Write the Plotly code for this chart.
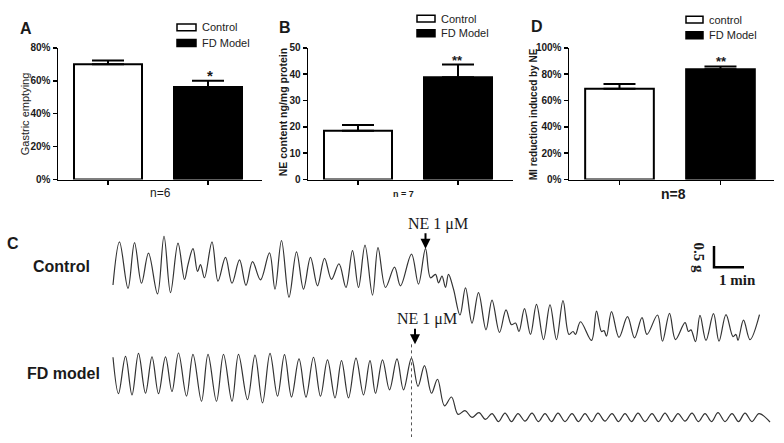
import plotly.graph_objects as go

# ---------------- data ----------------
groups = ["Control", "FD Model"]

gastric_mean = [70.0, 56.2]      # %
gastric_sem = [2.3, 3.8]

ne_content_mean = [18.5, 38.9]   # ng/mg protein
ne_content_sem = [2.2, 4.8]

mi_reduction_mean = [69.0, 83.7]  # %
mi_reduction_sem = [3.6, 2.2]

pct80_ticks = [0, 20, 40, 60, 80]
pct80_labels = ["0%", "20%", "40%", "60%", "80%"]
ne_ticks = [0, 10, 20, 30, 40, 50]
pct100_ticks = [0, 20, 40, 60, 80, 100]
pct100_labels = ["0%", "20%", "40%", "60%", "80%", "100%"]

# contraction recordings: time (s) and tension (g), extrema
control_t = [0, 13, 30, 43, 57, 71, 89, 102, 115, 130,
             143, 150, 160, 169, 175, 183, 198, 210, 225, 238,
             253, 266, 279, 295, 313, 324, 337, 352, 367, 381,
             395, 409, 423, 437, 452, 466, 479, 491, 504, 519,
             530, 545, 563, 575, 597, 611, 625, 635, 645, 651,
             658, 665, 671, 681, 694, 705, 718, 731, 746, 758,
             773, 786, 797, 805, 812, 823, 835, 847, 861, 874,
             887, 900, 912, 920, 925, 935, 957, 967, 977, 982,
             987, 997, 1012, 1029, 1043, 1058, 1068, 1089, 1099, 1113,
             1125, 1144, 1151, 1156, 1165, 1174, 1186, 1201, 1212, 1226,
             1240, 1246, 1250, 1261, 1274, 1293]
control_g = [1.45, 2.47, 1.37, 2.45, 1.49, 2.20, 1.24, 2.60, 1.27, 2.44,
             1.58, 1.93, 2.31, 1.77, 1.93, 1.62, 2.47, 1.54, 2.10, 1.49,
             2.04, 1.44, 2.00, 1.57, 2.21, 1.35, 2.50, 1.16, 2.23, 1.35,
             2.10, 1.43, 2.08, 1.58, 1.95, 1.39, 2.26, 1.39, 2.39, 1.21,
             2.33, 1.39, 1.87, 1.43, 2.18, 1.47, 2.31, 1.62, 1.70, 1.50,
             1.66, 1.39, 1.70, 1.35, 0.74, 1.38, 0.55, 1.27, 0.39, 1.09,
             0.33, 0.86, 0.51, 0.55, 0.35, 0.89, 0.28, 0.99, 0.16, 0.98,
             0.16, 1.08, 0.28, 0.35, 0.28, 0.58, 0.14, 0.83, 0.35, 0.37,
             0.24, 0.82, 0.21, 0.70, 0.20, 0.68, 0.28, 0.74, 0.12, 0.78,
             0.16, 0.56, 0.35, 0.39, 0.11, 0.73, 0.14, 0.77, 0.12, 0.75,
             0.23, 0.28, 0.14, 0.62, 0.16, 0.75]

fd_t = [0, 11, 25, 38, 51, 65, 78, 91, 105, 118,
        131, 147, 160, 177, 190, 207, 221, 238, 251, 269,
        284, 299, 314, 329, 343, 357, 372, 386, 401, 415,
        429, 444, 457, 471, 486, 501, 514, 525, 539, 553,
        568, 581, 597, 610, 623, 637, 649, 663, 677, 690,
        704, 718, 732, 745,
        758, 771, 784, 797, 810, 824, 838, 851, 864, 877,
        890, 904, 918, 931, 944, 957, 970, 984, 998, 1011,
        1024, 1037, 1050, 1064, 1078, 1091, 1104, 1117, 1130, 1144,
        1158, 1171, 1184, 1197, 1210, 1224, 1238, 1251, 1264, 1278,
        1292, 1314]
fd_g = [1.70, 0.84, 1.72, 0.81, 1.79, 0.85, 1.71, 0.84, 1.71, 0.89,
        1.80, 0.78, 1.77, 0.66, 1.77, 0.66, 1.77, 0.66, 1.77, 0.70,
        1.75, 0.62, 1.79, 0.78, 1.76, 0.76, 1.66, 0.76, 1.70, 0.78,
        1.64, 0.74, 1.62, 0.74, 1.68, 0.81, 1.62, 0.85, 1.64, 0.93,
        1.66, 0.93, 1.68, 1.01, 1.50, 0.85, 1.18, 0.55, 0.76, 0.35,
        0.44, 0.28, 0.39, 0.23,
        0.37, 0.18, 0.38, 0.18, 0.37, 0.19, 0.38, 0.18, 0.37, 0.18,
        0.38, 0.18, 0.37, 0.18, 0.37, 0.18, 0.38, 0.19, 0.37, 0.18,
        0.37, 0.18, 0.38, 0.18, 0.37, 0.18, 0.38, 0.18, 0.37, 0.19,
        0.38, 0.18, 0.37, 0.18, 0.39, 0.18, 0.37, 0.18, 0.38, 0.18,
        0.37, 0.17]

ne_time_control = 625   # s, NE 1 µM added (control)
ne_time_fd = 597        # s, NE 1 µM added (FD model)
scale_bar_g = 0.5
scale_bar_min = 1

# ---------------- layout helpers ----------------
W, H = 784, 443
def fx(px): return px / W
def fy(py): return 1 - py / H

ARIAL = "Arial, 'Liberation Sans', sans-serif"
TIMES = "'Times New Roman', 'Liberation Serif', serif"
INK = "#1a1a1a"
PX_PER_G = 43.4
PX_PER_S = 0.5
T0_PX = 113

fig = go.Figure()

bar_colors = ["white", "black"]
def add_bars(mean, sem, xa, ya):
    fig.add_trace(go.Bar(
        x=[0, 1], y=mean, width=0.68, xaxis=xa, yaxis=ya,
        marker=dict(color=bar_colors, line=dict(color="black", width=2)),
        error_y=dict(type="data", array=sem, arrayminus=[0, 0], symmetric=False,
                     color="black", thickness=2, width=16),
        showlegend=False, hoverinfo="y"))

add_bars(gastric_mean, gastric_sem, "x", "y")
add_bars(ne_content_mean, ne_content_sem, "x2", "y2")
add_bars(mi_reduction_mean, mi_reduction_sem, "x3", "y3")

fig.add_trace(go.Scatter(x=control_t, y=control_g, xaxis="x4", yaxis="y4",
                         mode="lines", line=dict(color="#333", width=1.2, shape="spline", smoothing=1.0),
                         showlegend=False, name="Control"))
fig.add_trace(go.Scatter(x=fd_t, y=fd_g, xaxis="x4", yaxis="y5",
                         mode="lines", line=dict(color="#333", width=1.2, shape="spline", smoothing=1.0),
                         showlegend=False, name="FD model"))

tickfont = dict(family=ARIAL, size=10, color=INK, weight="bold")
def xax(d0, d1, anchor, rng_hi):
    return dict(domain=[fx(d0), fx(d1)], anchor=anchor, range=[-0.5, rng_hi],
                showline=True, linecolor="black", linewidth=1.5, ticks="outside",
                ticklen=4, tickwidth=1.5, tickcolor="black", tickvals=[0, 1],
                showticklabels=False, showgrid=False, zeroline=False, fixedrange=True)
def yax(anchor, rng, tv, tt):
    return dict(domain=[fy(179), fy(44)], anchor=anchor, range=rng, tickvals=tv, ticktext=tt,
                showline=True, linecolor="black", linewidth=1.5, ticks="outside",
                ticklen=4, tickwidth=1.5, tickcolor="black", tickfont=tickfont,
                showgrid=False, zeroline=False, fixedrange=True)

x4_range = [(0 - T0_PX) / PX_PER_S, (W - T0_PX) / PX_PER_S]

fig.update_layout(
    width=W, height=H, autosize=False,
    margin=dict(l=0, r=0, t=0, b=0),
    paper_bgcolor="white", plot_bgcolor="white",
    bargap=0,
    xaxis=xax(58, 262, "y", 1.54),
    yaxis=yax("x", [0, 80], pct80_ticks, pct80_labels),
    xaxis2=xax(308, 513, "y2", 1.55),
    yaxis2=yax("x2", [0, 50], ne_ticks, [str(v) for v in ne_ticks]),
    xaxis3=xax(569, 774, "y3", 1.53),
    yaxis3=yax("x3", [0, 100], pct100_ticks, pct100_labels),
    xaxis4=dict(domain=[0, 1], anchor="y4", range=x4_range, visible=False, fixedrange=True),
    yaxis4=dict(domain=[fy(350), fy(220)], anchor="x4",
                range=[0, (350 - 220) / PX_PER_G], visible=False, fixedrange=True),
    yaxis5=dict(domain=[fy(440), fy(350)], anchor="x4",
                range=[(435 - 440) / PX_PER_G, (435 - 350) / PX_PER_G], visible=False, fixedrange=True),
)

ann = []
def text(t, x, y, size, family=ARIAL, bold=False, angle=0, xanchor="center", color=INK):
    ann.append(dict(text=t, x=fx(x), y=fy(y), xref="paper", yref="paper", showarrow=False,
                    xanchor=xanchor, yanchor="middle", textangle=angle,
                    font=dict(family=family, size=size, color=color,
                              weight="bold" if bold else "normal")))

# panel letters
text("A", 26, 24, 16, bold=True)
text("B", 285, 23, 16, bold=True)
text("D", 537, 22, 16, bold=True)
text("C", 13, 245, 16, bold=True)

# y titles
text("Gastric emptying", 25, 112, 11, angle=-90)
text("NE content ng/mg protein", 283, 110, 10.5, bold=True, angle=-90)
text("MI reduction induced by NE", 533, 112, 10, bold=True, angle=-90)

# n labels
text("n=6", 160, 193, 12)
text("n = 7", 403, 194, 9, bold=True)
text("n=8", 673, 194, 14, bold=True)

# significance stars
text("*", 210, 72, 15, bold=True)
text("**", 457, 57, 13, bold=True)
text("**", 721, 58, 13, bold=True)

# legends
shapes = []
def legend(x0, x1, yw, yb, h, labels, tx):
    for yc, fill, lab in [(yw, "white", labels[0]), (yb, "black", labels[1])]:
        shapes.append(dict(type="rect", xref="paper", yref="paper",
                           x0=fx(x0), x1=fx(x1), y0=fy(yc + h / 2), y1=fy(yc - h / 2),
                           line=dict(color="black", width=1.5), fillcolor=fill))
        text(lab, tx, yc, 11, xanchor="left", color="#222")

legend(177, 196, 23, 39, 7, ["Control", "FD Model"], 200)
legend(417, 435, 14, 29, 7, ["Control", "FD Model"], 439)
legend(686, 703, 15, 31, 7, ["control", "FD Model"], 707)

# panel C labels
text("Control", 61, 268, 16, bold=True)
text("FD model", 63, 378, 16, bold=True)
text("NE 1 μM", 438, 225, 16, family=TIMES)
text("NE 1 μM", 427, 322, 16, family=TIMES)

# NE arrows
for xt, yhead in [(ne_time_control, 250), (604, 348)]:
    ann.append(dict(text="", x=xt, y=fy(yhead), xref="x4", yref="paper", showarrow=True,
                    ax=0, ay=-17, axref="pixel", ayref="pixel",
                    arrowhead=2, arrowsize=1, arrowwidth=2, arrowcolor="black", standoff=0))

# dotted line at NE addition (FD model)
shapes.append(dict(type="line", xref="x4", yref="paper", x0=ne_time_fd, x1=ne_time_fd,
                   y0=fy(348), y1=0, line=dict(color="#555", width=1, dash="dot")))

# scale bar: 0.5 g / 1 min
sb_t0 = 1202
sb_g0 = 1.87
shapes.append(dict(type="path", xref="x4", yref="y4",
                   path=f"M {sb_t0},{sb_g0 + scale_bar_g} L {sb_t0},{sb_g0} L {sb_t0 + scale_bar_min * 60},{sb_g0}",
                   line=dict(color="black", width=2.5)))
text("0.5 g", 699, 259, 15, family=TIMES, bold=True, angle=90)
text("1 min", 737, 282, 15, family=TIMES, bold=True)

fig.update_layout(annotations=ann, shapes=shapes)
fig.write_html("out.html",
               config={"displayModeBar": False, "staticPlot": True},
               post_script="document.body.style.margin='0';document.body.style.overflow='hidden';")
